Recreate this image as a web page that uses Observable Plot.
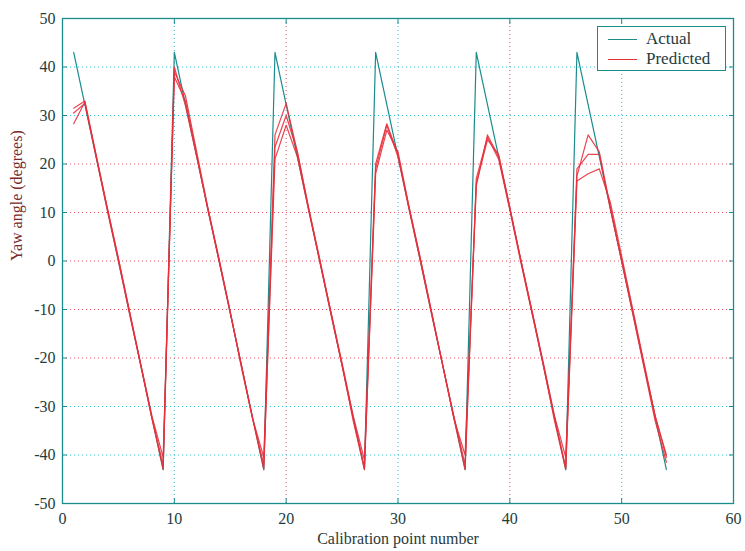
<!DOCTYPE html>
<html>
<head>
<meta charset="utf-8">
<script src="https://cdn.jsdelivr.net/npm/d3@7"></script>
<script src="https://cdn.jsdelivr.net/npm/@observablehq/plot@0.6"></script>
<style>
  html, body { margin: 0; padding: 0; background: #fff; }
  #wrap { position: relative; width: 745px; height: 551px; }
  #legend {
    position: absolute; left: 597px; top: 26px; width: 127px; height: 43px;
    border: 1.5px solid #1a8c8c; background: #fff;
    font-family: "Liberation Serif", serif; font-size: 17px; color: #1d3d3d;
  }
  #legend .row { position: absolute; left: 0; height: 20px; width: 127px; }
  #legend .sw { position: absolute; left: 10px; top: 10px; width: 29px; height: 0; border-top: 1.3px solid; }
  #legend .lab { position: absolute; left: 48px; top: 0; line-height: 20px; }
</style>
</head>
<body>
<div id="wrap">
  <div id="chart"></div>
  <div id="legend">
    <div class="row" style="top:2px"><div class="sw" style="border-color:#1a8c8c"></div><div class="lab">Actual</div></div>
    <div class="row" style="top:22px"><div class="sw" style="border-color:#e8303c"></div><div class="lab">Predicted</div></div>
  </div>
</div>
<script>
// Calibration point numbers
const points = [1,2,3,4,5,6,7,8,9,10,11,12,13,14,15,16,17,18,19,20,21,22,23,24,25,26,27,
                28,29,30,31,32,33,34,35,36,37,38,39,40,41,42,43,44,45,46,47,48,49,50,51,52,53,54];

// Actual yaw angle (degrees)
const actual = [
  43, 32.25, 21.5, 10.75, 0, -10.75, -21.5, -32.25, -43,
  43, 32.25, 21.5, 10.75, 0, -10.75, -21.5, -32.25, -43,
  43, 32.25, 21.5, 10.75, 0, -10.75, -21.5, -32.25, -43,
  43, 32.25, 21.5, 10.75, 0, -10.75, -21.5, -32.25, -43,
  43, 32.25, 21.5, 10.75, 0, -10.75, -21.5, -32.25, -43,
  43, 32.25, 21.5, 10.75, 0, -10.75, -21.5, -32.25, -43
];

// Predicted yaw angle, three prediction runs (degrees)
const predicted1 = [
  28.3, 32.8, 21.8, 11, 0.5, -10.5, -21.2, -32, -40.5,
  38, 33, 21.8, 10.5, 0.2, -10.5, -21.5, -32.5, -40.5,
  26, 32.5, 22.5, 11, 0, -10.5, -21, -32, -41,
  20, 28.3, 22, 11, 0.5, -10.5, -21.5, -32.5, -40,
  15.5, 26, 21.5, 11, 0, -10.5, -21, -32, -40.5,
  17.5, 26, 22.5, 11, 0, -10.5, -21.5, -32, -40
];
const predicted2 = [
  30.5, 32.5, 21.5, 10.5, 0, -11, -21.5, -32.5, -42,
  40, 32, 21.5, 10.75, 0, -10.75, -21.5, -32.5, -42,
  21, 28, 21.5, 10.5, 0, -11, -21.5, -32.5, -42.5,
  19, 28, 21.5, 10.5, 0, -11, -21.5, -32, -42,
  17, 25.5, 21, 10.5, -0.5, -11, -21.5, -32.5, -42.5,
  19, 22, 22, 10.5, 0, -11, -22, -33, -41.5
];
const predicted3 = [
  31.5, 33, 22, 11, 0.5, -10.5, -21.5, -32.5, -43,
  39, 34, 22.5, 11, 0.5, -10.5, -22, -32.5, -43,
  23.5, 30, 22.5, 11, 0.5, -10.5, -21.5, -33, -43,
  18, 27, 22.5, 11, 0.5, -10.5, -21.5, -32.5, -43,
  16, 25, 22, 11, 0, -10.5, -21.5, -33, -43,
  16.5, 18, 19, 12, 1, -10, -21, -32, -40.5
];

const xTicks = [0, 10, 20, 30, 40, 50, 60];
const yTicks = [-50, -40, -30, -20, -10, 0, 10, 20, 30, 40, 50];
const xGridTeal = [10, 30, 50];
const xGridRed = [20, 40];
const yGridTeal = [40, 30, -30, -40];
const yGridRed = [20, 10, 0, -10, -20];

const teal = "#1a8c8c";
const red = "#e8303c";

const actualData = points.map((p, i) => ({x: p, y: actual[i]}));
const predRuns = [predicted1, predicted2, predicted3].map(arr => points.map((p, i) => ({x: p, y: arr[i]})));

const font = "Liberation Serif, serif";
const fmt = d => String(d);

const chart = Plot.plot({
  width: 745,
  height: 551,
  marginLeft: 62,
  marginRight: 12,
  marginTop: 18,
  marginBottom: 48,
  style: {fontFamily: font, fontSize: "16px", color: "#1d3d3d", background: "#fff"},
  x: {domain: [0, 60], ticks: xTicks},
  y: {domain: [-50, 50], ticks: yTicks},
  marks: [
    Plot.gridX(xGridTeal, {stroke: "#2ec4d4", strokeOpacity: 1, strokeDasharray: "1,3"}),
    Plot.gridX(xGridRed, {stroke: "#e85060", strokeOpacity: 1, strokeDasharray: "1,3"}),
    Plot.gridY(yGridTeal, {stroke: "#2ec4d4", strokeOpacity: 1, strokeDasharray: "1,3"}),
    Plot.gridY(yGridRed, {stroke: "#e85060", strokeOpacity: 1, strokeDasharray: "1,3"}),
    Plot.axisX(xTicks, {anchor: "bottom", tickSize: -5, tickPadding: 14, tickFormat: fmt, stroke: teal, fill: "#1d3d3d", label: null, fontSize: 16}),
    Plot.axisX(xTicks, {anchor: "top", tickSize: -5, tickFormat: () => "", stroke: teal, label: null}),
    Plot.axisY(yTicks, {anchor: "left", tickSize: -5, tickPadding: 12, tickFormat: fmt, stroke: teal, fill: "#1d3d3d", label: null, fontSize: 16}),
    Plot.axisY(yTicks, {anchor: "right", tickSize: -5, tickFormat: () => "", stroke: teal, label: null}),
    Plot.line(actualData, {x: "x", y: "y", stroke: teal, strokeWidth: 1.2}),
    ...predRuns.map(d => Plot.line(d, {x: "x", y: "y", stroke: red, strokeWidth: 1.2, strokeOpacity: 0.9})),
    Plot.frame({stroke: teal, strokeWidth: 1.3}),
    Plot.text(["Calibration point number"], {frameAnchor: "bottom", dy: 40, fill: "#2a3a3a", fontSize: 16, fontFamily: font}),
    Plot.text(["Yaw angle (degrees)"], {frameAnchor: "left", rotate: -90, dx: -46, fill: "#7a2a2a", fontSize: 16, fontFamily: font})
  ]
});
document.getElementById("chart").appendChild(chart);
</script>
</body>
</html>
